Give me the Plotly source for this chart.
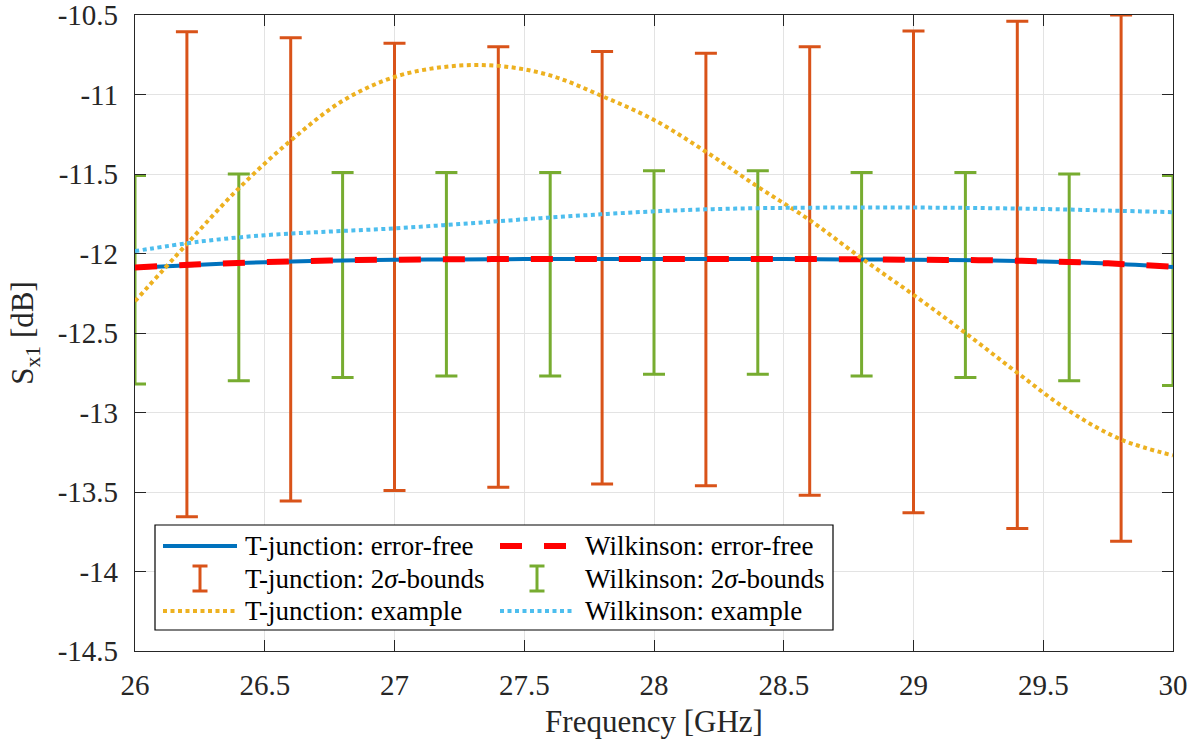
import plotly.graph_objects as go

# ---------------- data ----------------
# smooth curves (GHz)
freq_line = [26.0, 26.25, 26.5, 26.75, 27.0, 27.25, 27.5, 27.75, 28.0, 28.25,
             28.5, 28.75, 29.0, 29.25, 29.5, 29.75, 30.0]
tj_errfree = [-12.09, -12.07, -12.055, -12.045, -12.04, -12.037, -12.035, -12.035, -12.035,
              -12.035, -12.035, -12.037, -12.04, -12.043, -12.05, -12.063, -12.085]
wk_errfree = [-12.088, -12.068, -12.054, -12.044, -12.039, -12.036, -12.035, -12.035, -12.035,
              -12.035, -12.035, -12.036, -12.039, -12.042, -12.049, -12.062, -12.084]
wk_example = [-11.985, -11.925, -11.885, -11.862, -11.842, -11.815, -11.785, -11.758, -11.735,
              -11.72, -11.713, -11.711, -11.711, -11.714, -11.72, -11.73, -11.74]

freq_tj_ex = [26.0, 26.2, 26.4, 26.6, 26.8, 27.0, 27.2, 27.4, 27.6, 27.8, 28.0,
              28.2, 28.4, 28.6, 28.8, 29.0, 29.2, 29.4, 29.6, 29.8, 30.0]
tj_example = [-12.30, -11.94, -11.59, -11.29, -11.04, -10.89, -10.825, -10.82, -10.88, -11.01,
              -11.16, -11.36, -11.58, -11.79, -12.03, -12.26, -12.50, -12.75, -12.99, -13.17, -13.27]

# 2-sigma bounds
freq_tj_bars = [26.2, 26.6, 27.0, 27.4, 27.8, 28.2, 28.6, 29.0, 29.4, 29.8]
tj_upper = [-10.605, -10.643, -10.678, -10.70, -10.73, -10.74, -10.70, -10.60, -10.54, -10.50]
tj_lower = [-13.655, -13.556, -13.49, -13.47, -13.45, -13.46, -13.52, -13.63, -13.73, -13.81]

freq_wk_bars = [26.0, 26.4, 26.8, 27.2, 27.6, 28.0, 28.4, 28.8, 29.2, 29.6, 30.0]
wk_upper = [-11.51, -11.50, -11.49, -11.49, -11.49, -11.48, -11.48, -11.49, -11.49, -11.50, -11.51]
wk_lower = [-12.82, -12.80, -12.78, -12.77, -12.77, -12.76, -12.76, -12.77, -12.78, -12.80, -12.83]

x_ticks = [26, 26.5, 27, 27.5, 28, 28.5, 29, 29.5, 30]
y_ticks = [-14.5, -14, -13.5, -13, -12.5, -12, -11.5, -11, -10.5]

legend_labels = ["T-junction: error-free", "Wilkinson: error-free",
                 "T-junction: 2<i>σ</i>-bounds", "Wilkinson: 2<i>σ</i>-bounds",
                 "T-junction: example", "Wilkinson: example"]

# ---------------- styles ----------------
C_BLUE = "#0072BD"
C_RED = "#FF0000"
C_ORANGE = "#D95319"
C_GREEN = "#77AC30"
C_YELLOW = "#EDB120"
C_LBLUE = "#4DBEEE"
FONT = "Liberation Serif"
AX = "#262626"

def fmt(v):
    return "%g" % v

fig = go.Figure()

def bar_trace(xs, up, lo, color):
    mid = [(a + b) / 2 for a, b in zip(up, lo)]
    plus = [a - m for a, m in zip(up, mid)]
    minus = [m - b for b, m in zip(lo, mid)]
    return go.Scatter(x=xs, y=mid, mode="markers",
                      marker=dict(size=1, color="rgba(0,0,0,0)"),
                      error_y=dict(type="data", symmetric=False, array=plus, arrayminus=minus,
                                   color=color, thickness=3, width=11),
                      showlegend=False, hoverinfo="skip")

fig.add_trace(bar_trace(freq_tj_bars, tj_upper, tj_lower, C_ORANGE))
fig.add_trace(bar_trace(freq_wk_bars, wk_upper, wk_lower, C_GREEN))

fig.add_trace(go.Scatter(x=freq_line, y=tj_errfree, mode="lines",
                         line=dict(color=C_BLUE, width=4, shape="spline"), showlegend=False))
fig.add_trace(go.Scatter(x=freq_line, y=wk_errfree, mode="lines",
                         line=dict(color=C_RED, width=6, dash="22px,22px", shape="spline"),
                         showlegend=False))
fig.add_trace(go.Scatter(x=freq_tj_ex, y=tj_example, mode="lines",
                         line=dict(color=C_YELLOW, width=4, dash="4px,3.5px", shape="spline"),
                         showlegend=False))
fig.add_trace(go.Scatter(x=freq_line, y=wk_example, mode="lines",
                         line=dict(color=C_LBLUE, width=4, dash="4px,3.5px", shape="spline"),
                         showlegend=False))

# ---------------- manual legend (pixel layout -> paper) ----------------
PL, PR, PT, PB = 135, 1173, 15, 651
def px(x):
    return (x - PL) / (PR - PL)
def py(y):
    return (PB - y) / (PB - PT)

shapes = []
annotations = []
shapes.append(dict(type="rect", xref="paper", yref="paper",
                   x0=px(155), x1=px(833), y0=py(630), y1=py(525),
                   fillcolor="white", line=dict(color="#000000", width=1.2), layer="above"))
rows = [546, 578.5, 611]
cols = [(163, 237, 243), (500, 574, 583)]
styles = [("line", C_BLUE, 4, "solid"), ("line", C_RED, 6, "22px,22px"),
          ("bar", C_ORANGE, 3, None), ("bar", C_GREEN, 3, None),
          ("line", C_YELLOW, 4, "4px,3.5px"), ("line", C_LBLUE, 4, "4px,3.5px")]
for i, lab in enumerate(legend_labels):
    r, c = divmod(i, 2)
    x0, x1, xt = cols[c]
    yc = rows[r]
    kind, color, w, dash = styles[i]
    if kind == "line":
        shapes.append(dict(type="line", xref="paper", yref="paper",
                           x0=px(x0), x1=px(x1), y0=py(yc), y1=py(yc),
                           line=dict(color=color, width=w, dash=dash), layer="above"))
    else:
        xm = (x0 + x1) / 2
        shapes.append(dict(type="line", xref="paper", yref="paper",
                           x0=px(xm), x1=px(xm), y0=py(yc - 12.5), y1=py(yc + 12.5),
                           line=dict(color=color, width=3), layer="above"))
        for yy in (yc - 12.5, yc + 12.5):
            shapes.append(dict(type="line", xref="paper", yref="paper",
                               x0=px(xm - 7.5), x1=px(xm + 7.5), y0=py(yy), y1=py(yy),
                               line=dict(color=color, width=3), layer="above"))
    annotations.append(dict(xref="paper", yref="paper", x=px(xt), y=py(yc),
                            text=lab, showarrow=False, xanchor="left", yanchor="middle",
                            font=dict(family=FONT, size=27, color="#000000")))

fig.update_layout(
    width=1199, height=740,
    margin=dict(l=PL, r=1199 - PR, t=PT, b=740 - PB, autoexpand=False),
    paper_bgcolor="white", plot_bgcolor="white",
    font=dict(family=FONT, size=28, color=AX),
    shapes=shapes, annotations=annotations, showlegend=False,
)
axis_common = dict(showline=True, linecolor=AX, linewidth=1.3, mirror="ticks",
                   ticks="inside", ticklen=11, tickwidth=1.3, tickcolor=AX,
                   showgrid=True, gridcolor="#e3e3e3", gridwidth=1, zeroline=False,
                   ticklabeloverflow="allow", automargin=False,
                   tickfont=dict(family=FONT, size=29, color=AX))
fig.update_xaxes(range=[26, 30], tickvals=x_ticks, ticktext=[fmt(v) for v in x_ticks],
                 title=dict(text="Frequency [GHz]", font=dict(family=FONT, size=31, color=AX), standoff=10),
                 ticklabelstandoff=8, **axis_common)
fig.update_yaxes(range=[-14.5, -10.5], tickvals=y_ticks, ticktext=[fmt(v) for v in y_ticks],
                 title=dict(text="S<sub>x1</sub> [dB]", font=dict(family=FONT, size=31, color=AX), standoff=14),
                 ticklabelstandoff=10, **axis_common)

fig.write_html("out.html", config={"displayModeBar": False},
               post_script="document.body.style.margin='0px';")
